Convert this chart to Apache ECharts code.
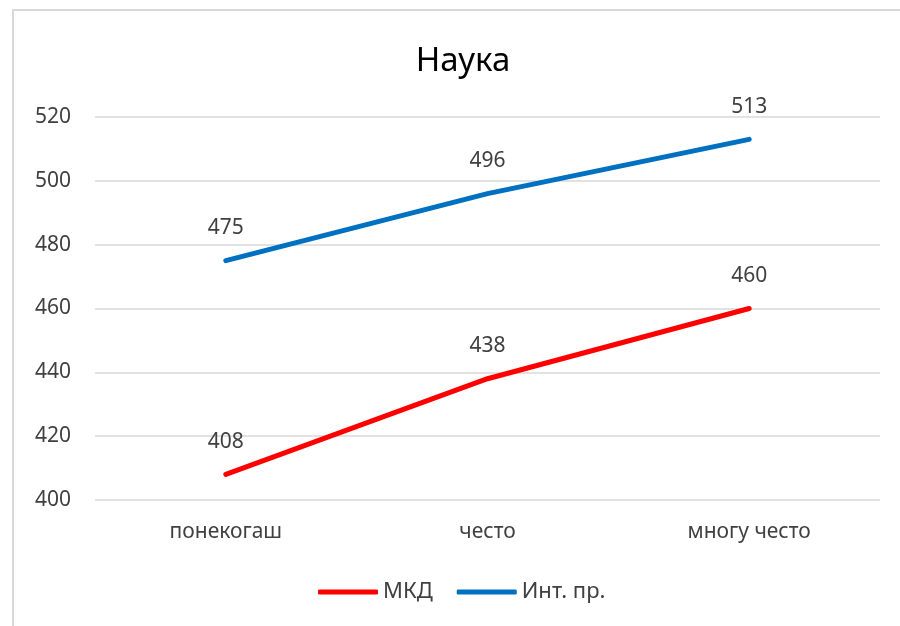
<!DOCTYPE html>
<html>
<head>
<meta charset="utf-8">
<script src="https://cdn.jsdelivr.net/npm/echarts@6/dist/echarts.min.js"></script>
<style>
    html, body { margin: 0; padding: 0; background: #fff; }
    #chart { width: 900px; height: 626px; }
</style>
</head>
<body>
<div id="chart"></div>
<script>
    var categories = ['понекогаш', 'често', 'многу често'];
    var mkd = [408, 438, 460];
    var intPr = [475, 496, 513];
    var seriesNames = ['МКД', 'Инт. пр.'];

    var font = 'Noto Sans';
    var myChart = echarts.init(document.getElementById('chart'));

    function lineSeries(name, data, color) {
        return {
            name: name,
            type: 'line',
            data: data,
            symbol: 'circle',
            symbolSize: 0,
            lineStyle: { color: color, width: 5, cap: 'round' },
            itemStyle: { color: color },
            label: {
                show: true,
                position: 'top',
                distance: 22,
                fontFamily: font,
                fontSize: 21,
                color: '#404040'
            }
        };
    }

    var option = {
        animation: false,
        backgroundColor: '#fff',
        graphic: [{
            type: 'rect',
            shape: { x: 13, y: 10, width: 1000, height: 1000 },
            style: { fill: 'none', stroke: '#d9d9d9', lineWidth: 2 }
        }],
        title: {
            text: 'Наука',
            left: 458,
            top: 40,
            textAlign: 'center',
            textStyle: { fontFamily: font, fontSize: 33, fontWeight: 'normal', color: '#000' }
        },
        legend: {
            data: seriesNames,
            bottom: 18,
            left: 313,
            itemWidth: 60,
            itemHeight: 5,
            itemGap: 24,
            icon: 'roundRect',
            textStyle: { fontFamily: font, fontSize: 22, color: '#404040' }
        },
        grid: { left: 95, right: 20, top: 117, bottom: 126 },
        xAxis: {
            type: 'category',
            data: categories,
            boundaryGap: true,
            axisLine: { show: false },
            axisTick: { show: false },
            axisLabel: { fontFamily: font, fontSize: 21, color: '#404040', margin: 22 }
        },
        yAxis: {
            type: 'value',
            min: 400,
            max: 520,
            interval: 20,
            axisLine: { show: false },
            axisTick: { show: false },
            axisLabel: { fontFamily: font, fontSize: 21, color: '#404040', margin: 24 },
            splitLine: { lineStyle: { color: '#d9d9d9', width: 1.5 } }
        },
        series: [
            lineSeries(seriesNames[0], mkd, '#ff0000'),
            lineSeries(seriesNames[1], intPr, '#0070c0')
        ]
    };
    myChart.setOption(option);
</script>
</body>
</html>
